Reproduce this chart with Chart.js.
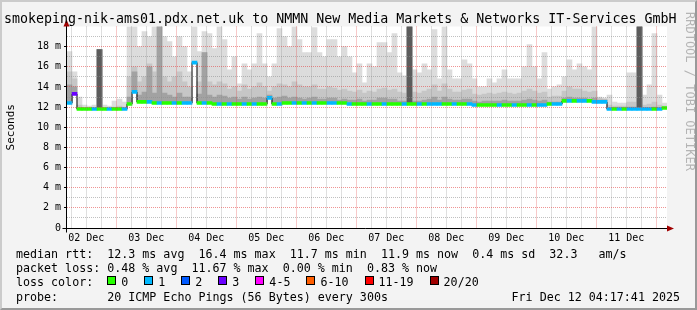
<!DOCTYPE html>
<html>
<head>
<meta charset="utf-8">
<script src="https://cdn.jsdelivr.net/npm/chart.js@4.4.1/dist/chart.umd.min.js"></script>
<style>
  html, body { margin: 0; padding: 0; }
  body { width: 697px; height: 310px; overflow: hidden; position: relative; font-family: 'DejaVu Sans Mono', monospace; }
  #frame { position: absolute; left: 0; top: 0; width: 697px; height: 310px; box-sizing: border-box;
           background: #f3f3f3; border-top: 2px solid #cbcbcb; border-left: 2px solid #cbcbcb;
           border-right: 2px solid #999; border-bottom: 2px solid #999; }
  #chart { position: absolute; left: 0; top: 0; }
  .txt { position: absolute; white-space: pre; color: #000; }
  #title { left: 4px; top: 10.7px; font-size: 13.3px; line-height: 16px; }
  .leg { left: 16px; font-size: 11.66px; line-height: 14px; }
  #stamp { font-size: 11.66px; line-height: 14px; right: 17px; top: 289.5px; }
  #rrd { left: 683px; top: 12px; font-size: 12px; color: #b4b4b4; writing-mode: vertical-rl; }
  .box { display: inline-block; width: 7px; height: 7px; border: 1px solid #000; margin-right: 5px; vertical-align: 1px; }
  .gap { display: inline-block; width: 16px; }
</style>
</head>
<body>
<div id="frame"></div>
<canvas id="chart" width="697" height="310"></canvas>
<div id="rrd" class="txt">RRDTOOL / TOBI OETIKER</div>
<div id="title" class="txt">smokeping-nik-ams01.pdx.net.uk to NMMN New Media Markets &amp; Networks IT-Services GmbH</div>
<div class="txt leg" style="top:246.5px">median rtt:  12.3 ms avg  16.4 ms max  11.7 ms min  11.9 ms now  0.4 ms sd  32.3   am/s</div>
<div class="txt leg" style="top:260.5px">packet loss: 0.48 % avg  11.67 % max  0.00 % min  0.83 % now</div>
<div class="txt leg" style="top:275px" id="losskey">loss color:  </div>
<div class="txt leg" style="top:289.5px">probe:       20 ICMP Echo Pings (56 Bytes) every 300s</div>
<div class="txt" id="stamp">Fri Dec 12 04:17:41 2025</div>
<script>
// 2h bins starting Fri Dec 02 04:17:41, values in ms
const median = [
  12.4, 13.3, 11.8, 11.8, 11.8, 11.8, 11.8, 11.8, 11.8, 11.8, 11.8, 11.8,
  12.3, 13.5, 12.5, 12.5, 12.5, 12.4, 12.4, 12.4, 12.4, 12.4, 12.4, 12.4,
  12.4, 16.4, 12.4, 12.4, 12.4, 12.3, 12.3, 12.3, 12.3, 12.3, 12.3, 12.3,
  12.3, 12.3, 12.3, 12.3, 12.9, 12.3, 12.3, 12.4, 12.4, 12.4, 12.4, 12.4,
  12.4, 12.4, 12.4, 12.4, 12.4, 12.4, 12.4, 12.4, 12.3, 12.3, 12.3, 12.3,
  12.3, 12.3, 12.3, 12.3, 12.3, 12.3, 12.3, 12.3, 12.3, 12.3, 12.3, 12.3,
  12.3, 12.3, 12.3, 12.3, 12.3, 12.3, 12.3, 12.3, 12.3, 12.2, 12.2, 12.2,
  12.2, 12.2, 12.2, 12.2, 12.2, 12.2, 12.2, 12.2, 12.2, 12.2, 12.2, 12.2,
  12.3, 12.3, 12.3, 12.6, 12.6, 12.6, 12.6, 12.6, 12.6, 12.5, 12.5, 12.5,
  11.8, 11.8, 11.8, 11.8, 11.8, 11.8, 11.8, 11.8, 11.8, 11.8, 11.8, 11.9
];
// lost pings out of 20 per bin
const loss = [
  1, 3, 0, 0, 0, 1, 0, 0, 1, 0, 0, 1,
  0, 1, 0, 0, 1, 0, 1, 0, 0, 1, 0, 1,
  1, 1, 0, 1, 0, 0, 1, 0, 1, 0, 0, 1,
  0, 1, 0, 0, 1, 0, 1, 0, 0, 1, 0, 1,
  0, 1, 0, 0, 1, 1, 0, 0, 1, 0, 0, 0,
  1, 0, 0, 1, 0, 0, 0, 1, 0, 0, 1, 0,
  1, 1, 1, 0, 0, 1, 0, 0, 1, 1, 0, 0,
  0, 0, 1, 0, 0, 1, 0, 0, 1, 0, 1, 1,
  0, 1, 1, 0, 1, 0, 1, 1, 0, 1, 1, 1,
  1, 0, 1, 0, 1, 1, 1, 1, 1, 0, 1, 0
];
// smoke: top of outer (light), middle and inner (dark) ping spread
const smokeHi = [
  17.5, 15.5, 13.0, 12.2, 12.1, 12.2, 17.7, 12.2, 12.1, 12.6, 12.8, 12.5,
  20.0, 20.0, 18.0, 19.5, 19.0, 20.0, 20.0, 19.0, 18.5, 17.0, 19.0, 18.0,
  15.5, 20.0, 17.5, 19.5, 19.3, 17.8, 20.0, 18.7, 15.7, 17.0, 14.3, 16.3,
  15.7, 16.3, 19.3, 16.3, 15.0, 16.3, 19.8, 19.0, 18.0, 20.0, 18.7, 17.4,
  17.4, 19.9, 17.4, 17.0, 18.7, 18.7, 17.0, 18.0, 17.0, 15.4, 16.3, 14.4,
  16.3, 16.0, 18.4, 18.4, 17.4, 19.3, 15.4, 15.1, 20.0, 15.7, 15.4, 16.3,
  15.7, 19.7, 14.8, 20.0, 15.7, 14.8, 14.8, 16.7, 16.3, 14.8, 14.0, 14.0,
  14.8, 14.4, 14.8, 15.7, 14.8, 14.8, 14.8, 16.0, 18.2, 16.0, 14.8, 17.4,
  13.8, 14.0, 14.2, 15.0, 16.7, 15.7, 16.3, 16.0, 15.7, 20.0, 13.0, 12.9,
  13.2, 12.5, 12.4, 12.4, 15.4, 15.4, 20.0, 13.2, 14.2, 19.3, 13.2, 12.4
];
const smokeMid = [
  15.5, 14.8, 12.2, 11.9, 11.9, 11.9, 17.7, 11.9, 11.9, 12.0, 12.1, 12.0,
  15.0, 16.0, 14.5, 15.0, 16.3, 15.5, 20.0, 15.0, 14.5, 15.0, 15.5, 14.5,
  14.0, 16.4, 14.5, 17.4, 14.5, 14.2, 14.5, 14.3, 13.8, 14.0, 13.6, 14.2,
  13.8, 14.0, 14.4, 14.0, 13.6, 14.0, 14.3, 14.2, 14.0, 14.5, 14.2, 14.0,
  14.0, 14.2, 13.8, 13.8, 14.0, 13.9, 13.7, 13.8, 13.6, 13.5, 13.7, 13.4,
  13.6, 13.5, 13.8, 13.9, 13.7, 13.8, 13.5, 13.4, 20.0, 13.5, 13.4, 13.6,
  13.8, 14.2, 13.6, 14.3, 13.8, 13.5, 13.5, 13.7, 13.8, 13.3, 13.2, 13.3,
  13.4, 13.3, 13.4, 13.5, 13.4, 13.3, 13.4, 13.6, 13.8, 13.6, 13.4, 13.5,
  13.0, 13.1, 13.1, 13.6, 14.0, 13.8, 13.8, 13.6, 13.5, 13.6, 12.9, 12.8,
  12.2, 12.1, 12.1, 12.1, 12.5, 12.5, 20.0, 12.2, 12.3, 12.5, 12.2, 12.1
];
const smokeDark = [
  14.2, 14.0, 11.9, 11.8, 11.8, 11.8, 17.7, 11.8, 11.8, 11.8, 11.8, 11.8,
  13.0, 15.5, 13.2, 13.5, 16.0, 13.4, 20.0, 13.4, 13.2, 13.0, 13.4, 13.0,
  13.0, 16.4, 13.3, 17.4, 13.2, 13.0, 13.2, 13.1, 12.9, 13.0, 12.8, 13.0,
  12.8, 12.9, 13.0, 12.9, 13.2, 12.9, 13.0, 13.1, 12.9, 13.0, 12.9, 12.8,
  12.9, 13.0, 12.8, 12.8, 12.9, 12.9, 12.7, 12.8, 12.7, 12.7, 12.8, 12.6,
  12.7, 12.7, 12.9, 12.9, 12.8, 12.8, 12.6, 12.6, 20.0, 12.6, 12.6, 12.7,
  12.8, 13.0, 12.7, 13.0, 12.8, 12.7, 12.7, 12.8, 12.8, 12.6, 12.5, 12.6,
  12.6, 12.6, 12.6, 12.7, 12.6, 12.6, 12.6, 12.7, 12.8, 12.7, 12.6, 12.7,
  12.5, 12.5, 12.5, 12.9, 13.0, 12.9, 12.9, 12.9, 12.8, 12.9, 12.7, 12.7,
  11.9, 11.9, 11.9, 11.9, 12.0, 12.0, 20.0, 11.9, 11.9, 12.0, 11.9, 11.9
];
// bins where all 20 pings were slow (solid dark columns)
const smokeCore = [
  null, null, null, null, null, null, 17.7, null, null, null, null, null,
  null, null, null, null, null, null, null, null, null, null, null, null,
  null, 16.4, null, null, null, null, null, null, null, null, null, null,
  null, null, null, null, null, null, null, null, null, null, null, null,
  null, null, null, null, null, null, null, null, null, null, null, null,
  null, null, null, null, null, null, null, null, 20.0, null, null, null,
  null, null, null, null, null, null, null, null, null, null, null, null,
  null, null, null, null, null, null, null, null, null, null, null, null,
  null, null, null, null, null, null, null, null, null, null, null, null,
  null, null, null, null, null, null, 20.0, null, null, null, null, null
];

const dayLabels = ['02 Dec', '03 Dec', '04 Dec', '05 Dec', '06 Dec', '07 Dec', '08 Dec', '09 Dec', '10 Dec', '11 Dec'];
const lossLabels = ['0', '1', '2', '3', '4-5', '6-10', '11-19', '20/20'];
const lossColors = ['#26ff00', '#00b8ff', '#0059ff', '#6a00ff', '#ff00ff', '#ff5e00', '#ff0000', '#a00000'];

const binHours = 2;
const spanHours = 240;
const firstMidnight = 19.705; // hours from start to Dec 03 00:00
const font = "'DejaVu Sans Mono', monospace";

function lossClass(n) {
  if (n <= 3) return n;
  if (n <= 5) return 4;
  if (n <= 10) return 5;
  if (n <= 19) return 6;
  return 7;
}

// loss key in the legend
const key = document.getElementById('losskey');
lossLabels.forEach((lab, i) => {
  key.insertAdjacentHTML('beforeend',
    '<span class="box" style="background:' + lossColors[i] + '"></span>' + lab + '<span class="gap"></span>');
});

const xs = median.map((_, i) => i * binHours + binHours / 2);

function band(tops) {
  const out = [];
  tops.forEach((t, i) => {
    if (t != null) out.push({ x: xs[i], y: [median[i], t] });
  });
  return out;
}

const barBase = {
  type: 'bar', grouped: false, barPercentage: 1, categoryPercentage: 1, borderWidth: 0
};

// grid every 6 hours, red at midnight, day label at noon
const gridHours = [];
for (let h = firstMidnight - 18; h <= spanHours; h += 6) gridHours.push(h);

function isMidnight(v) {
  const d = (v - firstMidnight) / 24;
  return Math.abs(d - Math.round(d)) < 0.01;
}
function noonLabel(v) {
  const d = (v - (firstMidnight - 12)) / 24;
  const k = Math.round(d);
  if (Math.abs(d - k) < 0.01 && k >= 0 && k < dayLabels.length) return dayLabels[k];
  return '';
}

const clear = 'rgba(0,0,0,0)';
const gridRed = 'rgba(225, 60, 60, 0.55)';
const gridGray = 'rgba(140, 140, 140, 0.55)';

const framePlugin = {
  id: 'framePlugin',
  beforeDraw(chart) {
    const a = chart.chartArea;
    const c = chart.ctx;
    c.save();
    c.fillStyle = '#ffffff';
    c.fillRect(a.left, a.top, a.right - a.left, a.bottom - a.top);
    c.restore();
  },
  afterDraw(chart) {
    const a = chart.chartArea;
    const c = chart.ctx;
    const x0 = a.left - 0.5;
    const y0 = Math.round(a.bottom) + 0.5;
    c.save();
    c.strokeStyle = '#000';
    c.lineWidth = 1;
    c.beginPath();
    c.moveTo(x0, y0 + 4);
    c.lineTo(x0, a.top - 3);
    c.moveTo(x0 - 4, y0);
    c.lineTo(a.right + 2, y0);
    c.stroke();
    c.fillStyle = '#a00000';
    c.beginPath();
    c.moveTo(x0 - 3, a.top);
    c.lineTo(x0 + 3, a.top);
    c.lineTo(x0, a.top - 7);
    c.closePath();
    c.fill();
    c.beginPath();
    c.moveTo(a.right, y0 - 3);
    c.lineTo(a.right, y0 + 3);
    c.lineTo(a.right + 7, y0);
    c.closePath();
    c.fill();
    c.restore();
  }
};

new Chart(document.getElementById('chart'), {
  type: 'bar',
  data: {
    datasets: [
      Object.assign({ label: 'smoke outer', data: band(smokeHi), backgroundColor: '#dcdcdc', order: 7 }, barBase),
      Object.assign({ label: 'smoke mid', data: band(smokeMid), backgroundColor: '#c6c6c6', order: 6 }, barBase),
      Object.assign({ label: 'smoke inner', data: band(smokeDark), backgroundColor: '#a2a2a2', order: 5 }, barBase),
      Object.assign({ label: 'smoke core', data: band(smokeCore), backgroundColor: '#5c5c5c', order: 4 }, barBase),
      {
        type: 'line', label: 'median', order: 3,
        data: xs.map((x, i) => ({ x: x, y: median[i] })),
        stepped: 'middle', borderColor: '#000', borderWidth: 1, pointRadius: 0, fill: false
      },
      Object.assign({
        label: 'median loss', order: 2,
        data: xs.map((x, i) => ({ x: x, y: [median[i] - 0.14, median[i] + 0.16] })),
        backgroundColor: loss.map(n => lossColors[lossClass(n)])
      }, barBase)
    ]
  },
  options: {
    responsive: false,
    animation: false,
    devicePixelRatio: 1,
    events: [],
    layout: { padding: { left: 0, right: 30, top: 26.5, bottom: 0 } },
    plugins: { legend: { display: false }, tooltip: { enabled: false } },
    scales: {
      x: {
        type: 'linear', min: 0, max: spanHours, offset: false,
        afterBuildTicks(axis) { axis.ticks = gridHours.map(v => ({ value: v })); },
        afterFit(axis) { axis.height = 82; },
        grid: {
          z: 1, lineWidth: 1, drawTicks: false, offset: false,
          color: ctx => !ctx.tick ? clear : (isMidnight(ctx.tick.value) ? gridRed : gridGray)
        },
        border: { display: false, dash: [1, 1] },
        ticks: {
          autoSkip: false, maxRotation: 0, padding: 4, color: '#000',
          font: { family: font, size: 10 },
          callback: v => noonLabel(v)
        }
      },
      y: {
        min: 0, max: 20,
        afterFit(axis) { axis.width = 67; },
        grid: {
          z: 1, lineWidth: 1, drawTicks: true, tickLength: 3,
          color: ctx => {
            if (!ctx.tick) return clear;
            const v = ctx.tick.value;
            if (v === 0 || v === 20) return clear;
            return v % 2 === 0 ? gridRed : gridGray;
          },
          tickColor: ctx => (ctx.tick && ctx.tick.value % 2 === 0 && ctx.tick.value < 20) ? '#000' : clear
        },
        border: { display: false, dash: [1, 1] },
        ticks: {
          stepSize: 1, autoSkip: false, padding: 3, color: '#000',
          font: { family: font, size: 10 },
          callback: v => (v % 2 !== 0 || v >= 20) ? '' : (v === 0 ? '0' : v + ' m')
        },
        title: {
          display: true, text: 'Seconds', color: '#000',
          font: { family: font, size: 11 },
          padding: { top: 5, bottom: 0 }
        }
      }
    }
  },
  plugins: [framePlugin]
});
</script>
</body>
</html>
